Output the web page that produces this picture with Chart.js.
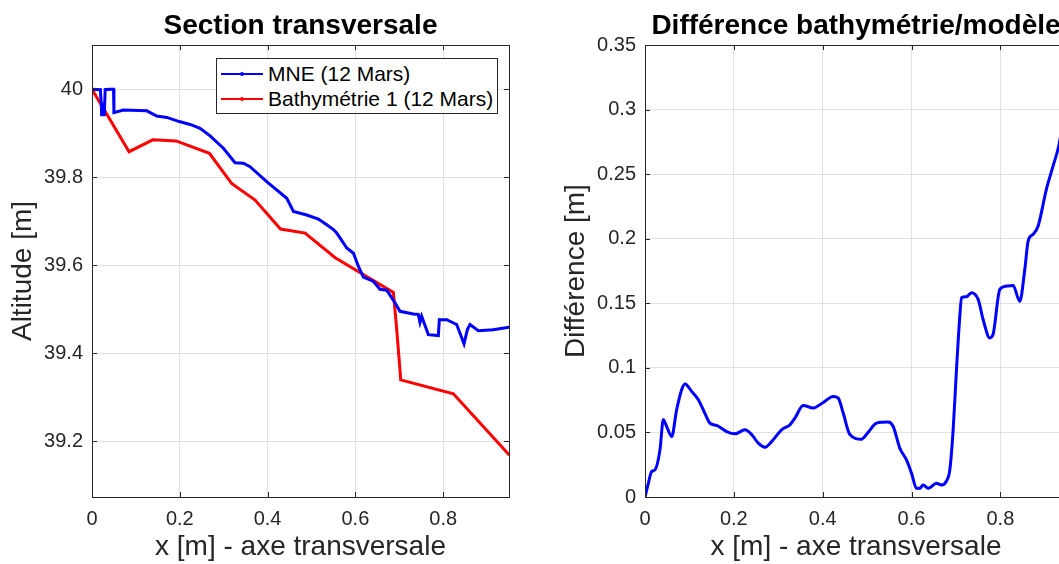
<!DOCTYPE html>
<html>
<head>
<meta charset="utf-8">
<script src="https://cdn.jsdelivr.net/npm/chart.js@4.4.1/dist/chart.umd.min.js"></script>
<style>
  html, body { margin: 0; padding: 0; background: #fff; }
  body { width: 1059px; height: 564px; position: relative; overflow: hidden; }
  .pane { position: absolute; top: 0; height: 564px; }
  #left { left: 0; width: 530px; }
  #right { left: 530px; width: 560px; }
  #legend {
    position: absolute; left: 216px; top: 58px; width: 282px; height: 56px;
    box-sizing: border-box; border: 1px solid #262626; background: #fff;
    font-family: "Liberation Sans", Arial, sans-serif; font-size: 21px; color: #000;
  }
  #legend .row { position: absolute; left: 0; height: 24px; line-height: 24px; width: 100%; }
  #legend .swatch { position: absolute; left: 4px; top: 11px; width: 42px; height: 2px; }
  #legend .dot { position: absolute; left: 19px; top: -1px; width: 4px; height: 4px; border-radius: 2px; }
  #legend .txt { position: absolute; left: 51px; top: 0; white-space: nowrap; }
</style>
</head>
<body>
<div class="pane" id="left"><canvas id="c1"></canvas></div>
<div class="pane" id="right"><canvas id="c2"></canvas></div>
<div id="legend"></div>
<script>
// --- data ---
const mneX = [0, 0.019, 0.021, 0.022, 0.028, 0.030, 0.040, 0.049, 0.050, 0.0716, 0.1248, 0.1475, 0.1703, 0.2007, 0.2235, 0.2462, 0.269, 0.2993, 0.3259,
  0.3449, 0.36, 0.398, 0.4437, 0.459, 0.4893, 0.5157, 0.5348, 0.55, 0.5576, 0.5804, 0.5956, 0.607, 0.6184, 0.6412, 0.6563, 0.6715, 0.6905, 0.7018, 0.732,
  0.7434, 0.7472, 0.751, 0.7662, 0.789, 0.7913, 0.808, 0.8308, 0.8384, 0.8475, 0.855, 0.8612, 0.88, 0.9142, 0.95]
const mneY = [40.0, 39.999, 39.97, 39.942, 39.942, 39.999, 40.0, 40.0, 39.947, 39.953, 39.951, 39.939, 39.936, 39.926, 39.920, 39.911, 39.894, 39.866, 39.833,
  39.832, 39.824, 39.79, 39.752, 39.722, 39.714, 39.705, 39.692, 39.681, 39.673, 39.639, 39.627, 39.597, 39.573, 39.563, 39.545, 39.543, 39.514, 39.495, 39.489,
  39.488, 39.470, 39.484, 39.442, 39.440, 39.476, 39.476, 39.465, 39.445, 39.421, 39.453, 39.465, 39.451, 39.453, 39.459]

const bathyX = [0, 0.0845, 0.1385, 0.1916, 0.2675, 0.318, 0.3715, 0.4295, 0.4855, 0.554, 0.6866, 0.6943, 0.7034, 0.8233, 0.95]
const bathyY = [40.0, 39.858, 39.885, 39.8825, 39.8545, 39.786, 39.748, 39.682, 39.673, 39.617, 39.538, 39.453, 39.339, 39.3075, 39.169]

const diffX = [0, 0.0075, 0.015, 0.0225, 0.0337, 0.0412, 0.0487, 0.06, 0.0712, 0.0825, 0.09, 0.105, 0.12, 0.1312, 0.1462, 0.1612, 0.1837, 0.2025, 0.225, 0.24,
  0.255, 0.27, 0.285, 0.3075, 0.3262, 0.3375, 0.3562, 0.3787, 0.4012, 0.4237, 0.435, 0.4462, 0.4612, 0.4875, 0.5025, 0.5212, 0.5475, 0.5587, 0.5737, 0.5887,
  0.6, 0.6112, 0.6187, 0.6262, 0.6375, 0.6562, 0.6675, 0.6787, 0.6862, 0.6937, 0.7012, 0.7087, 0.7125, 0.7237, 0.735, 0.75, 0.7612, 0.7762, 0.7837, 0.7987,
  0.8137, 0.8287, 0.8437, 0.855, 0.8625, 0.8737, 0.885, 0.9037, 0.9187, 0.9315, 0.95]
const diffY = [0, 0.0106, 0.0197, 0.021, 0.0365, 0.0598, 0.0546, 0.0468, 0.0675, 0.0831, 0.0875, 0.0818, 0.0753, 0.0675, 0.0572, 0.0554, 0.0507, 0.0489, 0.052, 0.0484,
  0.0417, 0.0386, 0.0429, 0.052, 0.0559, 0.0611, 0.0709, 0.0689, 0.0732, 0.0779, 0.0766, 0.065, 0.0484, 0.0448, 0.0502, 0.0572, 0.058, 0.0546, 0.0378, 0.0287,
  0.0184, 0.0067, 0.0067, 0.0093, 0.0067, 0.0106, 0.0093, 0.0124, 0.021, 0.052, 0.0986, 0.14, 0.1543, 0.155, 0.1581, 0.153, 0.1374, 0.1232, 0.1261, 0.1607,
  0.1633, 0.1638, 0.1516, 0.1762, 0.1982, 0.2034, 0.2099, 0.2384, 0.2564, 0.272, 0.31]

const xTicks = [0, 0.2, 0.4, 0.6, 0.8]
const altTicks = [39.2, 39.4, 39.6, 39.8, 40]
const diffTicks = [0, 0.05, 0.1, 0.15, 0.2, 0.25, 0.3, 0.35]

const FONT = '"Liberation Sans", Arial, Helvetica, sans-serif'
const AXIS = '#262626'
const GRID = '#e1e1e1'

const zip = (xs, ys) => xs.map((x, i) => ({ x, y: ys[i] }))
const fmt = v => String(+(+v).toFixed(2))

// MATLAB-like box: outline on all sides + inward tick marks
const boxPlugin = {
  id: 'box',
  afterDraw (chart) {
    const { ctx, chartArea: a, scales } = chart
    ctx.save()
    ctx.strokeStyle = AXIS
    ctx.lineWidth = 1
    ctx.strokeRect(Math.round(a.left) + 0.5, Math.round(a.top) + 0.5, Math.round(a.right - a.left), Math.round(a.bottom - a.top))
    const len = 5
    ctx.beginPath()
    scales.x.ticks.forEach(t => {
      const px = Math.round(scales.x.getPixelForValue(t.value)) + 0.5
      ctx.moveTo(px, a.bottom); ctx.lineTo(px, a.bottom - len)
      ctx.moveTo(px, a.top); ctx.lineTo(px, a.top + len)
    })
    scales.y.ticks.forEach(t => {
      const py = Math.round(scales.y.getPixelForValue(t.value)) + 0.5
      ctx.moveTo(a.left, py); ctx.lineTo(a.left + len, py)
      ctx.moveTo(a.right, py); ctx.lineTo(a.right - len, py)
    })
    ctx.stroke()
    ctx.restore()
  }
}

function makeOptions ({ title, yTitle, yMin, yMax, yTicks, yWidth, yTitlePad, padRight }) {
  return {
    responsive: true,
    maintainAspectRatio: false,
    animation: false,
    layout: { padding: { left: 0, right: padRight, top: 0, bottom: 0 } },
    plugins: {
      legend: { display: false },
      tooltip: { enabled: false },
      title: {
        display: true, text: title, fullSize: false, color: '#000',
        font: { family: FONT, size: 28, weight: 'bold', lineHeight: 1 },
        padding: { top: 12, bottom: 5 }
      }
    },
    scales: {
      x: {
        type: 'linear', min: 0, max: 0.95,
        afterBuildTicks: s => { s.ticks = xTicks.map(v => ({ value: v })) },
        afterFit: s => { s.height = 67 },
        grid: { color: GRID, drawTicks: false },
        border: { display: false },
        ticks: { color: AXIS, font: { family: FONT, size: 20 }, padding: 10, maxRotation: 0, autoSkip: false, callback: fmt },
        title: { display: true, text: 'x [m] - axe transversale', color: AXIS, font: { family: FONT, size: 28, lineHeight: 1 }, padding: { top: 0, bottom: 3 } }
      },
      y: {
        type: 'linear', min: yMin, max: yMax,
        afterBuildTicks: s => { s.ticks = yTicks.map(v => ({ value: v })) },
        afterFit: s => { s.width = yWidth },
        grid: { color: GRID, drawTicks: false },
        border: { display: false },
        ticks: { color: AXIS, font: { family: FONT, size: 20 }, padding: 9, autoSkip: false, callback: fmt },
        title: { display: true, text: yTitle, color: AXIS, font: { family: FONT, size: 28, lineHeight: 1 }, padding: { top: yTitlePad, bottom: 0 } }
      }
    }
  }
}

const leftChart = new Chart(document.getElementById('c1'), {
  type: 'line',
  data: {
    datasets: [
      { label: 'MNE (12 Mars)', data: zip(mneX, mneY), borderColor: '#0000ff', backgroundColor: '#0000ff', borderWidth: 3, pointRadius: 1.2, pointBorderWidth: 0, tension: 0 },
      { label: 'Bathymétrie 1 (12 Mars)', data: zip(bathyX, bathyY), borderColor: '#ff0000', backgroundColor: '#ff0000', borderWidth: 3, pointRadius: 1.2, pointBorderWidth: 0, tension: 0 }
    ]
  },
  options: makeOptions({ title: 'Section transversale', yTitle: 'Altitude [m]', yMin: 39.0727, yMax: 40.1007, yTicks: altTicks, yWidth: 92, yTitlePad: 9.5, padRight: 21 }),
  plugins: [boxPlugin]
})

new Chart(document.getElementById('c2'), {
  type: 'line',
  data: {
    datasets: [
      { label: 'Différence', data: zip(diffX, diffY), borderColor: '#0000ff', backgroundColor: '#0000ff', borderWidth: 3, pointRadius: 1.2, pointBorderWidth: 0, cubicInterpolationMode: 'monotone' }
    ]
  },
  options: makeOptions({ title: 'Différence bathymétrie/modèle', yTitle: 'Différence [m]', yMin: 0, yMax: 0.35, yTicks: diffTicks, yWidth: 115, yTitlePad: 32, padRight: 23 }),
  plugins: [boxPlugin]
})

// legend box inside the left axes, built from the datasets
const legend = document.getElementById('legend')
leftChart.data.datasets.forEach((ds, i) => {
  const row = document.createElement('div')
  row.className = 'row'
  row.style.top = (i === 0 ? 2.5 : 28) + 'px'
  row.innerHTML = '<div class="swatch" style="background:' + ds.borderColor + '"><div class="dot" style="background:' + ds.borderColor + '"></div></div>' +
    '<span class="txt"></span>'
  row.querySelector('.txt').textContent = ds.label
  legend.appendChild(row)
})
</script>
</body>
</html>
